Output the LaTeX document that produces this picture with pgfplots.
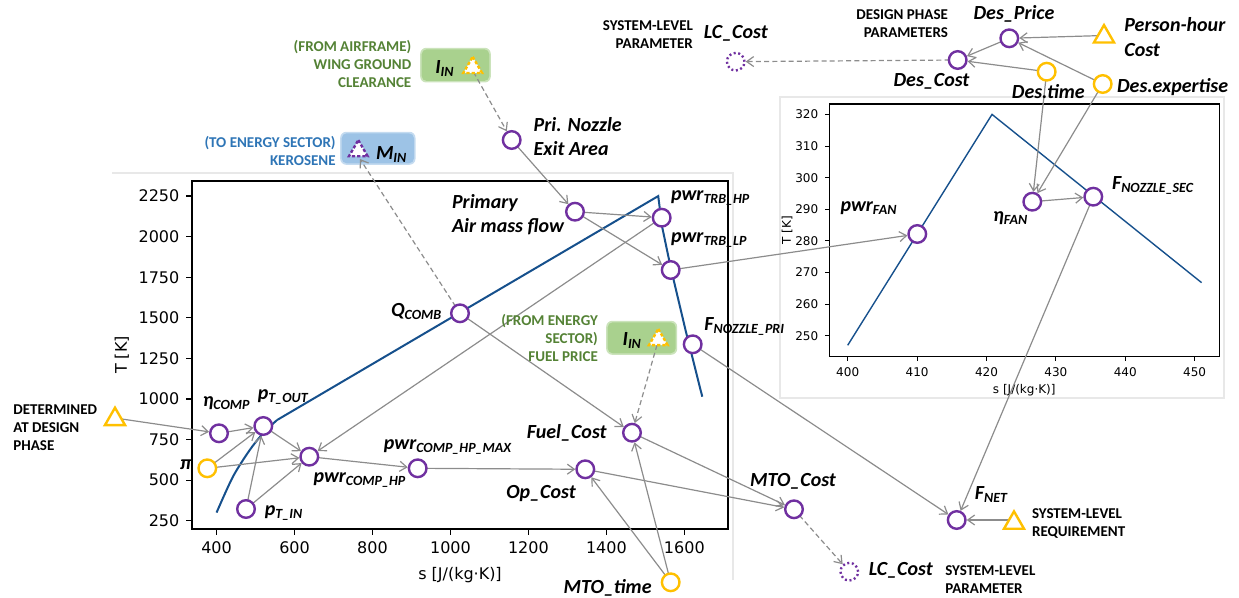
\documentclass[border=0pt]{standalone}
\usepackage{pgfplots}
\pgfplotsset{compat=1.18}
\usepackage{fontspec}
\setmainfont{Carlito}
\newfontfamily\dejavu{DejaVu Sans}
\usetikzlibrary{arrows.meta}
\definecolor{purp}{RGB}{112,48,160}
\definecolor{gold}{RGB}{255,192,0}
\definecolor{arrgray}{RGB}{140,140,140}
\definecolor{gboxc}{RGB}{169,209,142}
\definecolor{gtext}{RGB}{84,130,53}
\definecolor{bboxc}{RGB}{157,195,230}
\definecolor{btext}{RGB}{46,117,182}
\definecolor{curvec}{RGB}{22,80,140}
\newcommand{\sub}[1]{\textsubscript{#1}}
\newcommand{\lbl}{\fontsize{10}{12.2}\selectfont\bfseries\itshape}
\newcommand{\capf}{\fontsize{7.5}{9}\selectfont\bfseries}
\pgfplotsset{
  arr/.style={draw=arrgray, line width=0.6pt, -{Straight Barb[length=3.5pt,width=5pt]}, shorten >=5pt, mark=none},
  darr/.style={arr, dash pattern=on 2.5pt off 1.6pt},
}
\newcommand{\A}[5][]{\addplot[arr,#1] coordinates {(#2,#3) (#4,#5)};}
\newcommand{\D}[5][]{\addplot[darr,#1] coordinates {(#2,#3) (#4,#5)};}
\begin{document}
\begin{tikzpicture}
\path[use as bounding box] (0,0) rectangle (619.5pt,299pt);
% ---------------- main T-s diagram
\begin{axis}[
  at={(96pt,34.5pt)}, anchor=south west,
  scale only axis, width=268pt, height=174pt,
  xmin=337, xmax=1712, ymin=199, ymax=2343,
  xtick={400,600,...,1600}, ytick={250,500,...,2250},
  tick pos=left, tick align=outside, major tick length=2.8pt,
  every tick/.style={black, line width=0.6pt},
  axis line style={line width=1pt},
  ticklabel style={font=\dejavu\fontsize{8}{9}\selectfont},
  /pgf/number format/assume math mode=true,
  /pgf/number format/1000 sep={},
  xlabel={s [J/(kg·K)]}, ylabel={T [K]},
  label style={font=\dejavu\fontsize{8}{9}\selectfont},
  ylabel style={yshift=-2pt},
]
\addplot[curvec, line width=1pt, mark=none, smooth, tension=0.5] coordinates {
(400,300) (442,521) (485,685) (520,790) (555,870)};
\addplot[curvec, line width=1pt, mark=none] coordinates {
(555,870) (1533,2250) (1543,2061) (1564.5,1815) (1603,1425) (1646,1014)};
\end{axis}
% ---------------- inset (fan)
\begin{axis}[
  at={(414.65pt,120.65pt)}, anchor=south west,
  scale only axis, width=195pt, height=126.35pt,
  xmin=397.35, xmax=453.55, ymin=243.4, ymax=323.3,
  xtick={400,410,...,450}, ytick={250,260,...,320},
  tick pos=left, tick align=outside, major tick length=2pt,
  every tick/.style={black, line width=0.5pt},
  axis line style={line width=0.7pt},
  ticklabel style={font=\dejavu\fontsize{6}{7}\selectfont},
  /pgf/number format/assume math mode=true,
  xlabel={s [J/(kg·K)]}, ylabel={T [K]},
  label style={font=\dejavu\fontsize{6}{7}\selectfont},
  xlabel style={yshift=3pt},
  ylabel style={at={(axis description cs:-0.108,0.5)}, anchor=center},
]
\addplot[curvec, line width=0.7pt, mark=none] coordinates {(400,247) (420.8,320) (451,266.8)};
\end{axis}
% ---------------- diagram overlay (pixel coordinates)
\begin{axis}[
  at={(0pt,0pt)}, anchor=south west,
  scale only axis, width=619.5pt, height=299pt,
  xmin=0, xmax=1239, ymin=0, ymax=598, y dir=reverse,
  hide axis, clip=false,
]
% faint figure frames
\draw[gray!18, line width=0.6pt] (axis cs:112,173) -- (axis cs:733,173) -- (axis cs:733,580);
\draw[gray!18, line width=0.6pt] (axis cs:780,97) rectangle (axis cs:1224,398);
% coloured boxes
\fill[gboxc!60!white, rounded corners=3pt] (axis cs:420.2,47.8) rectangle (axis cs:490.8,82.5);
\fill[gboxc, rounded corners=2.5pt] (axis cs:421.7,49.3) rectangle (axis cs:489.3,81);
\fill[gboxc!60!white, rounded corners=3pt] (axis cs:606.2,320.8) rectangle (axis cs:677.2,354.8);
\fill[gboxc, rounded corners=2.5pt] (axis cs:607.7,322.3) rectangle (axis cs:675.7,353.3);
\fill[bboxc!60!white, rounded corners=3pt] (axis cs:340.2,131.8) rectangle (axis cs:415.5,164.8);
\fill[bboxc, rounded corners=2.5pt] (axis cs:341.7,133.3) rectangle (axis cs:414,163.3);
% arrows (solid)
\A{115}{418}{219}{433.3}
\A{219}{433.3}{263.3}{426}
\A{207.3}{468.3}{263.3}{426}
\A{207.3}{468.3}{309.3}{456.7}
\A{246}{509}{263.3}{426}
\A{246}{509}{309.3}{456.7}
\A{263.3}{426}{309.3}{456.7}
\A{661.7}{217.7}{309.3}{456.7}
\A{309.3}{456.7}{417.7}{468.3}
\A{417.7}{468.3}{585.3}{469.3}
\A{511.7}{140}{575}{211.7}
\A{575}{211.7}{661.7}{217.7}
\A{575}{211.7}{670.7}{270}
\A{460}{313.3}{632}{432.7}
\A{670.7}{582.3}{632}{432.7}
\A{670.7}{582.3}{585.3}{469.3}
\A{632}{432.7}{794}{509.3}
\A{585.3}{469.3}{794}{509.3}
\A{692.7}{344.3}{956.7}{520}
\A{670.7}{270}{917.3}{234}
\A{1093.3}{196.7}{956.7}{520}
\A{1032.3}{201.7}{1093.3}{196.7}
\A{1046.7}{71.7}{1032.3}{201.7}
\A{1102.7}{84}{1032.3}{201.7}
\A{1014}{520}{956.7}{520}
\A{1104}{35.5}{1009.3}{38.3}
\A{1009.3}{38.3}{957.7}{60}
\A{1046.7}{71.7}{957.7}{60}
\A{1102.7}{84}{1009.3}{38.3}
% arrows (dashed)
\D[shorten >=0pt]{460}{313.3}{360}{159}
\D{473.5}{72}{511.7}{140}
\D{657}{345}{632}{432.7}
\D{794}{509.3}{849.3}{571.7}
\D{957.7}{60}{735.7}{61.7}
% purple circles
\addplot[only marks, mark=*, mark size=4.4pt,
  mark options={draw=purp, fill=white, line width=1.2pt, solid}] coordinates {
(219,433.3) (263.3,426) (309.3,456.7) (246,509) (417.7,468.3) (460,313.3)
(575,211.7) (661.7,217.7) (670.7,270) (692.7,344.3) (632,432.7) (585.3,469.3)
(794,509.3) (956.7,520) (511.7,140) (1009.3,38.3) (957.7,60) (917.3,234)
(1032.3,201.7) (1093.3,196.7)};
% yellow circles
\addplot[only marks, mark=*, mark size=4.4pt,
  mark options={draw=gold, fill=white, line width=1.2pt, solid}] coordinates {
(207.3,468.3) (670.7,582.3) (1046.7,71.7) (1102.7,84)};
% dotted circles
\addplot[only marks, mark=*, mark size=4.4pt,
  mark options={draw=purp, fill=white, line width=1.2pt, dash pattern=on 1pt off 1.3pt}] coordinates {
(735.7,61.7) (849.3,571.7)};
% solid yellow triangles
\addplot[only marks, mark=triangle*, mark size=5.8pt,
  mark options={draw=gold, fill=white, line width=1.2pt, solid}] coordinates {
(115,419.3) (1104,36.7) (1014,523)};
% dashed triangles
\addplot[only marks, mark=triangle*, mark size=5.4pt,
  mark options={draw=gold, fill=white, line width=1.2pt, dash pattern=on 1.6pt off 1pt}] coordinates {
(472.7,67.6) (658.3,339.8)};
\addplot[only marks, mark=triangle*, mark size=5.4pt,
  mark options={draw=purp, fill=white, line width=1.2pt, dash pattern=on 1.6pt off 1pt}] coordinates {
(358.3,150.9)};
% ---------------- text
\node[font=\capf, anchor=west, align=left, inner sep=0pt] at (axis cs:13,427.7) {DETERMINED\\AT DESIGN\\PHASE};
\node[font=\lbl, inner sep=0pt] at (axis cs:226.7,403.3) {η\sub{COMP}};
\node[font=\lbl, inner sep=0pt] at (axis cs:283.3,396.7) {p\sub{T\_OUT}};
\node[font=\lbl, inner sep=0pt] at (axis cs:186,465) {π};
\node[font=\lbl, inner sep=0pt] at (axis cs:360,480) {pwr\sub{COMP\_HP}};
\node[font=\lbl, inner sep=0pt] at (axis cs:284,513.3) {p\sub{T\_IN}};
\node[font=\lbl, inner sep=0pt] at (axis cs:448,446.7) {pwr\sub{COMP\_HP\_MAX}};
\node[font=\lbl, inner sep=0pt] at (axis cs:416.7,311.7) {Q\sub{COMB}};
\node[font=\lbl, anchor=west, align=left, inner sep=0pt] at (axis cs:451.7,214.5) {Primary\\Air mass flow};
\node[font=\lbl, anchor=west, inner sep=0pt] at (axis cs:670.7,198.3) {pwr\sub{TRB\_HP}};
\node[font=\lbl, anchor=west, inner sep=0pt] at (axis cs:670.7,240) {pwr\sub{TRB\_LP}};
\node[font=\lbl, anchor=west, inner sep=0pt] at (axis cs:704,326) {F\sub{NOZZLE\_PRI}};
\node[font=\capf, text=gtext, anchor=east, align=right, inner sep=0pt] at (axis cs:598.3,338) {(FROM ENERGY\\SECTOR)\\FUEL PRICE};
\node[font=\lbl, inner sep=0pt] at (axis cs:632.3,340.7) {I\sub{IN}};
\node[font=\lbl, inner sep=0pt] at (axis cs:566.7,433.3) {Fuel\_Cost};
\node[font=\lbl, inner sep=0pt] at (axis cs:541,493.3) {Op\_Cost};
\node[font=\lbl, anchor=east, inner sep=0pt] at (axis cs:652,588.3) {MTO\_time};
\node[font=\lbl, inner sep=0pt] at (axis cs:793,481.7) {MTO\_Cost};
\node[font=\lbl, inner sep=0pt] at (axis cs:900.8,570) {LC\_Cost};
\node[font=\capf, anchor=west, align=left, inner sep=0pt] at (axis cs:945,579.5) {SYSTEM-LEVEL\\PARAMETER};
\node[font=\lbl, inner sep=0pt] at (axis cs:991.5,495) {F\sub{NET}};
\node[font=\capf, anchor=west, align=left, inner sep=0pt] at (axis cs:1031.7,524) {SYSTEM-LEVEL\\REQUIREMENT};
\node[font=\capf, text=gtext, anchor=east, align=right, inner sep=0pt] at (axis cs:411.7,64.3) {(FROM AIRFRAME)\\WING GROUND\\CLEARANCE};
\node[font=\lbl, inner sep=0pt] at (axis cs:445,68.3) {I\sub{IN}};
\node[font=\capf, text=btext, anchor=east, align=right, inner sep=0pt] at (axis cs:336,150.5) {(TO ENERGY SECTOR)\\KEROSENE};
\node[font=\lbl, inner sep=0pt] at (axis cs:391.7,155) {M\sub{IN}};
\node[font=\lbl, anchor=west, align=left, inner sep=0pt] at (axis cs:533.3,136.3) {Pri. Nozzle\\Exit Area};
\node[font=\capf, anchor=east, align=right, inner sep=0pt] at (axis cs:693.3,34.7) {SYSTEM-LEVEL\\PARAMETER};
\node[font=\lbl, inner sep=0pt] at (axis cs:735.8,33.3) {LC\_Cost};
\node[font=\capf, anchor=east, align=right, inner sep=0pt] at (axis cs:948.3,24) {DESIGN PHASE\\PARAMETERS};
\node[font=\lbl, inner sep=0pt] at (axis cs:1014,14) {Des\_Price};
\node[font=\lbl, inner sep=0pt] at (axis cs:931.5,81.7) {Des\_Cost};
\node[font=\lbl, anchor=west, align=left, inner sep=0pt] at (axis cs:1124,37) {Person-hour\\Cost};
\node[font=\lbl, inner sep=0pt] at (axis cs:1048.3,91.7) {Des.time};
\node[font=\lbl, anchor=west, inner sep=0pt] at (axis cs:1116.7,87.3) {Des.expertise};
\node[font=\lbl, inner sep=0pt] at (axis cs:869,208.3) {pwr\sub{FAN}};
\node[font=\lbl, inner sep=0pt] at (axis cs:1010.8,218.3) {η\sub{FAN}};
\node[font=\lbl, anchor=west, inner sep=0pt] at (axis cs:1111.7,185) {F\sub{NOZZLE\_SEC}};
\end{axis}
\end{tikzpicture}
\end{document}
